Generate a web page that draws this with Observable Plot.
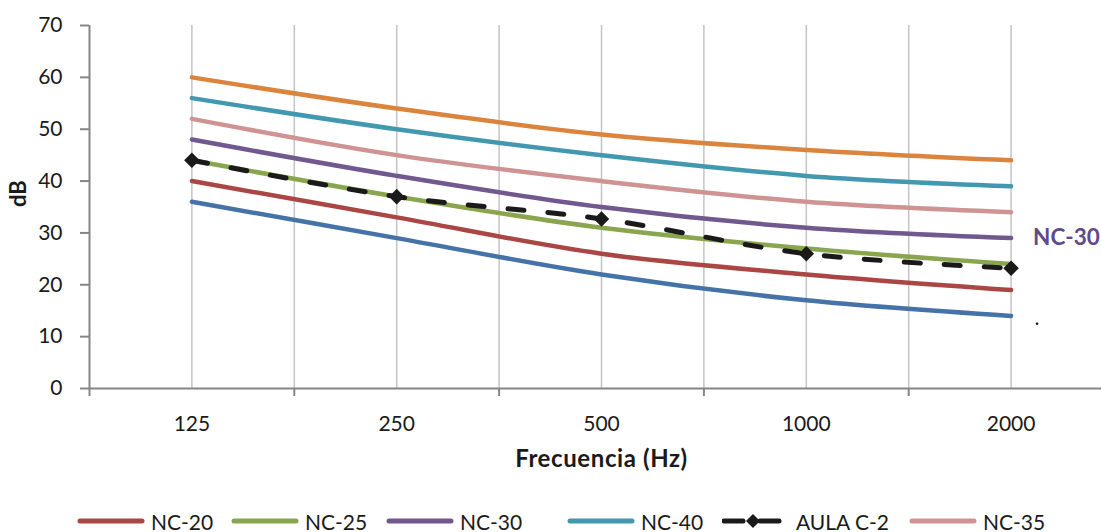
<!DOCTYPE html>
<html><head><meta charset="utf-8">
<script src="https://cdn.jsdelivr.net/npm/d3@7"></script>
<script src="https://cdn.jsdelivr.net/npm/@observablehq/plot@0.6"></script>
<style>
body{margin:0;background:#fff;font-family:Lato,sans-serif;}
#wrap{position:relative;width:1101px;height:532px;overflow:hidden;}
#legend{position:absolute;left:0;top:508px;width:1101px;height:26px;}
.item{position:absolute;top:0;height:26px;display:flex;align-items:center;font-size:21px;color:#1a1a1a;white-space:nowrap;}
.item svg{display:block;margin-right:6px;}
</style></head><body>
<div id="wrap"><div id="chart"></div><div id="legend"></div></div>
<script>
const categories = ["125", "250", "500", "1000", "2000"];
const nc15 = [36, 29, 22, 17, 14];
const nc20 = [40, 33, 26, 22, 19];
const nc25 = [44, 37, 31, 27, 24];
const nc30 = [48, 41, 35, 31, 29];
const nc35 = [52, 45, 40, 36, 34];
const nc40 = [56, 50, 45, 41, 39];
const nc45 = [60, 54, 49, 46, 44];
const aulaC2 = [44, 37, 32.7, 26, 23.2];
const yTicks = [0, 10, 20, 30, 40, 50, 60, 70];

const seriesNames = ["NC-15", "NC-20", "NC-25", "NC-30", "NC-40", "NC-35", "NC-45"];
const seriesValues = [nc15, nc20, nc25, nc30, nc40, nc35, nc45];
const seriesColors = ["#4573a7", "#aa4643", "#89a54e", "#71588f", "#4198af", "#d09393", "#db843d"];

const table = [];
seriesNames.forEach((s, k) => seriesValues[k].forEach((v, i) => table.push({series: s, i, v})));
const aula = aulaC2.map((v, i) => ({i, v}));

const idx = categories.map((_, i) => i);
const mids = [-0.5, 0.5, 1.5, 2.5, 3.5];
const grid = [0, 0.5, 1, 1.5, 2, 2.5, 3, 3.5, 4];

const chart = Plot.plot({
  width: 1101,
  height: 490,
  marginLeft: 89,
  marginRight: 0,
  marginTop: 25,
  marginBottom: 102,
  style: {fontFamily: "Lato, sans-serif", fontSize: "21px", color: "#1a1a1a", background: "#fff", overflow: "visible"},
  x: {domain: [-0.5, 4.5], range: [89, 1113]},
  y: {domain: [0, 70]},
  color: {domain: seriesNames, range: seriesColors},
  marks: [
    Plot.ruleX(grid, {x: d => d, y1: 0, y2: 70, stroke: "#c4c4c4", strokeWidth: 1.5}),
    Plot.axisY({ticks: yTicks, tickSize: 9, tickPadding: 18, stroke: "#868686", strokeWidth: 2, label: null, fontSize: 21}),
    Plot.axisX({ticks: mids, tickSize: 8, tickFormat: () => "", stroke: "#868686", strokeWidth: 2, label: null}),
    Plot.axisX({ticks: idx, tickSize: 0, tickPadding: 28, tickFormat: i => categories[i], label: null, fontSize: 21}),
    Plot.ruleX([-0.5], {y1: 0, y2: 70, stroke: "#868686", strokeWidth: 2}),
    Plot.ruleY([0], {stroke: "#868686", strokeWidth: 2}),
    Plot.lineY(table, {x: "i", y: "v", z: "series", stroke: "series", curve: "catmull-rom", strokeWidth: 4.5, strokeLinecap: "round"}),
    Plot.lineY(aula, {x: "i", y: "v", stroke: "#1a1a1a", strokeWidth: 5, strokeDasharray: "16,24", strokeLinecap: "round", curve: "catmull-rom"}),
    Plot.dot(aula, {x: "i", y: "v", symbol: "diamond2", r: 7, fill: "#1a1a1a", stroke: "none"}),
    Plot.text(["dB"], {frameAnchor: "left", dx: -71, rotate: -90, fontWeight: "bold", fontSize: 22, fill: "#1a1a1a"}),
    Plot.text(["Frecuencia (Hz)"], {x: 2, frameAnchor: "bottom", dy: 78, fontWeight: "bold", fontSize: 24, fill: "#1a1a1a", style: "letter-spacing:0.6px"}),
    Plot.text(["NC-30"], {x: 4, y: nc30[4], dx: 22, textAnchor: "start", fontWeight: "bold", fontSize: 22.5, fill: "#604a87"}),
    Plot.dot([0], {x: 4, y: 12.5, dx: 26, r: 1.3, fill: "#1a1a1a"})
  ]
});
document.getElementById("chart").appendChild(chart);
chart.querySelectorAll("text").forEach(t => { if (t.textContent === "Frecuencia (Hz)") t.setAttribute("letter-spacing", "0.6"); });

// Legend
const legendItems = [
  {name: "NC-20", color: "#aa4643", left: 77},
  {name: "NC-25", color: "#89a54e", left: 231},
  {name: "NC-30", color: "#71588f", left: 386},
  {name: "NC-40", color: "#4198af", left: 567},
  {name: "AULA C-2", color: "#1a1a1a", left: 722, aula: true},
  {name: "NC-35", color: "#d09393", left: 909}
];
const legend = document.getElementById("legend");
legendItems.forEach(it => {
  const div = document.createElement("div");
  div.className = "item";
  div.style.left = it.left + "px";
  let svg;
  if (it.aula) {
    svg = `<svg width="60" height="14"><line x1="2" y1="7" x2="21" y2="7" stroke="${it.color}" stroke-width="5" stroke-linecap="round"/><line x1="38" y1="7" x2="57" y2="7" stroke="${it.color}" stroke-width="5" stroke-linecap="round"/><polygon points="31,0 38,7 31,14 24,7" fill="${it.color}"/></svg>`;
    div.innerHTML = svg + `<span style="margin-left:8px">${it.name}</span>`;
  } else {
    svg = `<svg width="68" height="14"><line x1="3" y1="7" x2="65" y2="7" stroke="${it.color}" stroke-width="5" stroke-linecap="round"/></svg>`;
    div.innerHTML = svg + `<span>${it.name}</span>`;
  }
  legend.appendChild(div);
});
</script>
</body></html>
